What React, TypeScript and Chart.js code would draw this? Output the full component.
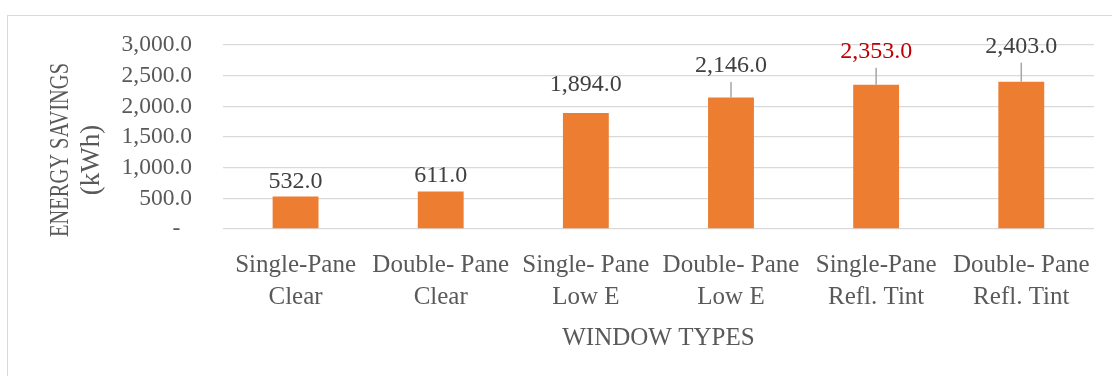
import React, { useEffect, useRef } from "react";
import { Chart, registerables } from "chart.js";

Chart.register(...registerables);

// Window types (two-line category labels) and their annual energy savings in kWh
const windowTypes: string[][] = [
  ["Single-Pane", "Clear"],
  ["Double- Pane", "Clear"],
  ["Single- Pane", "Low E"],
  ["Double- Pane", "Low E"],
  ["Single-Pane", "Refl. Tint"],
  ["Double- Pane", "Refl. Tint"],
];
const energySavings: number[] = [532, 611, 1894, 2146, 2353, 2403];

const yMin = 0;
const yMax = 3000;
const yStep = 500;

// Data-label styling: how far each label sits above its bar, colour, leader line
const labelLift = [16, 17.5, 30, 33.5, 35, 37];
const labelColors = ["#404040", "#404040", "#404040", "#404040", "#C00000", "#404040"];
const showLeader = [false, false, false, true, true, true];

const FONT = "'Liberation Serif', 'Times New Roman', serif";
const BAR_COLOR = "#ED7D31";
const GRID_COLOR = "#D9D9D9";
const TEXT_COLOR = "#595959";

const fmt = (v: number) =>
  v.toLocaleString("en-US", { minimumFractionDigits: 1, maximumFractionDigits: 1 });

const valueLabels = {
  id: "valueLabels",
  afterDatasetsDraw(chart: any) {
    const ctx = chart.ctx as CanvasRenderingContext2D;
    const meta = chart.getDatasetMeta(0);
    const size = 24;
    ctx.save();
    ctx.font = `${size}px ${FONT}`;
    ctx.textAlign = "center";
    ctx.textBaseline = "alphabetic";
    meta.data.forEach((bar: any, i: number) => {
      const x = bar.x;
      const top = bar.y;
      const mid = top - labelLift[i];
      if (showLeader[i]) {
        ctx.strokeStyle = "#A6A6A6";
        ctx.lineWidth = 1.5;
        ctx.beginPath();
        ctx.moveTo(x, mid + 18);
        ctx.lineTo(x, top);
        ctx.stroke();
      }
      ctx.fillStyle = labelColors[i];
      ctx.fillText(fmt(energySavings[i]), x, mid + size * 0.33);
    });
    ctx.restore();
  },
};

const axisTitles = {
  id: "axisTitles",
  afterDraw(chart: any) {
    const ctx = chart.ctx as CanvasRenderingContext2D;
    const area = chart.chartArea;
    ctx.save();
    ctx.fillStyle = TEXT_COLOR;
    ctx.textAlign = "center";
    ctx.textBaseline = "alphabetic";

    // x-axis title
    ctx.font = `25px ${FONT}`;
    ctx.fillText("WINDOW TYPES", (area.left + area.right) / 2, 345);

    // y-axis title, two rotated lines
    ctx.font = `27px ${FONT}`;
    const lines = [
      { text: "ENERGY SAVINGS", x: 68, y: 150, len: 174 },
      { text: "(kWh)", x: 99, y: 160, len: 0 },
    ];
    lines.forEach((l) => {
      const w = ctx.measureText(l.text).width;
      const sx = l.len ? l.len / w : 1;
      ctx.save();
      ctx.translate(l.x, l.y);
      ctx.rotate(-Math.PI / 2);
      ctx.scale(sx, 1);
      ctx.fillText(l.text, 0, 0);
      ctx.restore();
    });
    ctx.restore();
  },
};

export default function App() {
  const canvasRef = useRef<HTMLCanvasElement | null>(null);

  useEffect(() => {
    if (!canvasRef.current) return;
    Chart.defaults.font.family = FONT;
    const chart = new Chart(canvasRef.current, {
      type: "bar",
      data: {
        labels: windowTypes,
        datasets: [
          {
            data: energySavings,
            backgroundColor: BAR_COLOR,
            borderWidth: 0,
            barPercentage: 1,
            categoryPercentage: 0.316,
          },
        ],
      },
      options: {
        animation: false,
        responsive: false,
        maintainAspectRatio: false,
        layout: { padding: { left: 0, right: 16, top: 44, bottom: 0 } },
        plugins: {
          legend: { display: false },
          tooltip: { enabled: false },
          title: { display: false },
        },
        scales: {
          x: {
            grid: { display: false, drawTicks: false },
            border: { display: false },
            ticks: {
              color: TEXT_COLOR,
              font: { size: 25, lineHeight: 1.26 },
              padding: 21,
              maxRotation: 0,
              autoSkip: false,
            },
            afterFit: (scale: any) => {
              scale.height = 147;
            },
          },
          y: {
            min: yMin,
            max: yMax,
            grid: { color: GRID_COLOR, lineWidth: 1.3, drawTicks: false },
            border: { display: false },
            ticks: {
              stepSize: yStep,
              autoSkip: false,
              color: TEXT_COLOR,
              font: { size: 23.5 },
              padding: 31,
              callback: (v: any) => (Number(v) === 0 ? "-  " : fmt(Number(v))),
            },
            afterFit: (scale: any) => {
              scale.width = 223;
            },
          },
        },
      },
      plugins: [valueLabels, axisTitles],
    });
    return () => chart.destroy();
  }, []);

  return (
    <div
      style={{
        position: "absolute",
        left: 0,
        top: 0,
        width: 1112,
        height: 376,
        overflow: "hidden",
        background: "#fff",
      }}
    >
      <div
        style={{
          position: "absolute",
          left: 7,
          top: 15,
          width: 1200,
          height: 500,
          border: "1px solid #D9D9D9",
        }}
      />
      <canvas
        ref={canvasRef}
        width={1112}
        height={376}
        style={{ position: "absolute", left: 0, top: 0 }}
      />
    </div>
  );
}
